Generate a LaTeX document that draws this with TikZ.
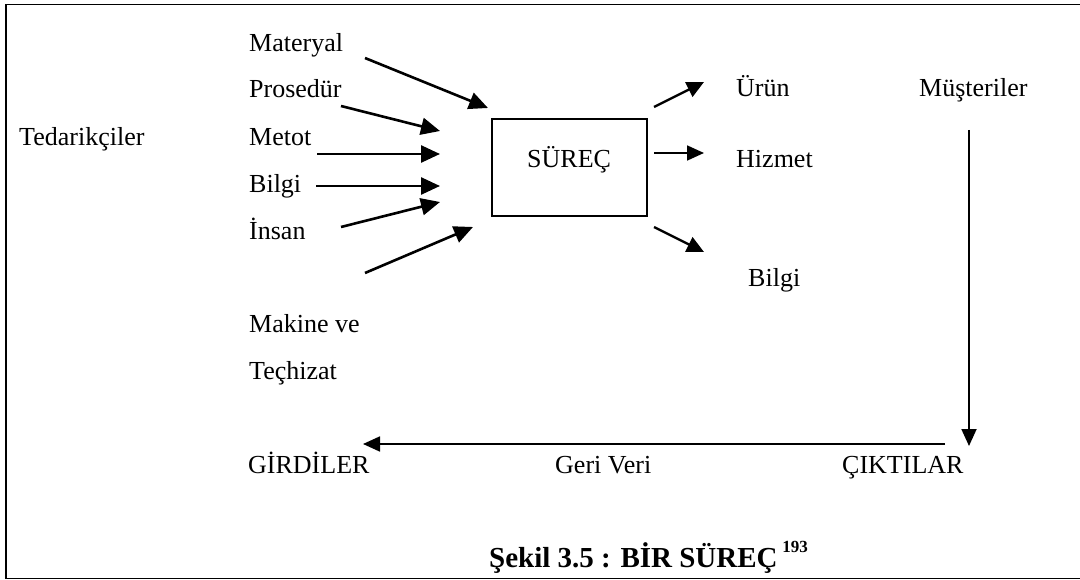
\documentclass[tikz,border=0pt]{standalone}
\usepackage{fontspec}
\setmainfont{Liberation Serif}
\usetikzlibrary{arrows.meta}
\begin{document}
\begin{tikzpicture}[x=1pt,y=-1pt,
  lbl/.style={anchor=base west,inner sep=0pt,font=\fontsize{26}{30}\selectfont},
  inarrow/.style={line width=2.6pt,-{Triangle[length=19pt,width=17pt]}},
  outarrow/.style={line width=2.4pt,-{Triangle[length=17pt,width=16pt]}},
  thinarrow/.style={line width=1.8pt,-{Triangle[length=17pt,width=15pt]}}]
\useasboundingbox (0,0) rectangle (1080,580);
\draw[line width=1.6pt] (1080,4.5) -- (6,4.5) -- (6,578.5) -- (1080,578.5);
% texts
\node[lbl] (ted) at (19,146) {Tedarikçiler};
\node[lbl] (mat) at (249,52) {Materyal};
\node[lbl] (pro) at (249,98) {Prosedür};
\node[lbl] (met) at (249,146) {Metot};
\node[lbl] (bil) at (249,193) {Bilgi};
\node[lbl] (ins) at (249,240) {İnsan};
\node[lbl] (mak) at (249,333) {Makine ve};
\node[lbl] (tec) at (249,379) {Teçhizat};
\node[lbl] (gir) at (248,473) {GİRDİLER};
\node[lbl] (ger) at (555,473) {Geri Veri};
\node[lbl] (cik) at (842,473) {ÇIKTILAR};
\node[lbl] (uru) at (736,97) {Ürün};
\node[lbl] (hiz) at (736,168) {Hizmet};
\node[lbl] (bil2) at (748,287) {Bilgi};
\node[lbl] (mus) at (919,97) {Müşteriler};
% process box
\node[draw,line width=1.4pt,minimum width=155pt,minimum height=97pt,inner sep=0pt] (box) at (569.5,167.5) {};
\node[lbl] (sur) at (527,168) {SÜREÇ};
% input arrows
\coordinate (a1s) at (365,58);  \coordinate (a1e) at (488,108);
\coordinate (a2s) at (341,106); \coordinate (a2e) at (440,131);
\coordinate (a3s) at (317,154); \coordinate (a3e) at (440,154);
\coordinate (a4s) at (316,186); \coordinate (a4e) at (440,186);
\coordinate (a5s) at (341,227); \coordinate (a5e) at (440,202);
\coordinate (a6s) at (365,273); \coordinate (a6e) at (473,227);
\draw[inarrow] (a1s) -- (a1e);
\draw[inarrow] (a2s) -- (a2e);
\draw[inarrow] (a3s) -- (a3e);
\draw[inarrow] (a4s) -- (a4e);
\draw[inarrow] (a5s) -- (a5e);
\draw[inarrow] (a6s) -- (a6e);
% output arrows
\coordinate (o1s) at (654,107); \coordinate (o1e) at (704,82);
\coordinate (o2s) at (654,153); \coordinate (o2e) at (704,153);
\coordinate (o3s) at (654,227); \coordinate (o3e) at (704,252);
\draw[outarrow] (o1s) -- (o1e);
\draw[thinarrow] (o2s) -- (o2e);
\draw[outarrow] (o3s) -- (o3e);
% customer to outputs
\coordinate (vs) at (969,130); \coordinate (ve) at (969,446);
\draw[thinarrow] (vs) -- (ve);
% feedback
\coordinate (fs) at (945,444); \coordinate (fe) at (363,444);
\draw[thinarrow] (fs) -- (fe);
% caption
\node[anchor=base west,inner sep=0pt,font=\fontsize{29}{32}\selectfont\bfseries] (cap) at (489,567) {Şekil 3.5 : BİR SÜREÇ\,\raisebox{0.5em}{\fontsize{17}{19}\selectfont 193}};
\end{tikzpicture}
\end{document}
